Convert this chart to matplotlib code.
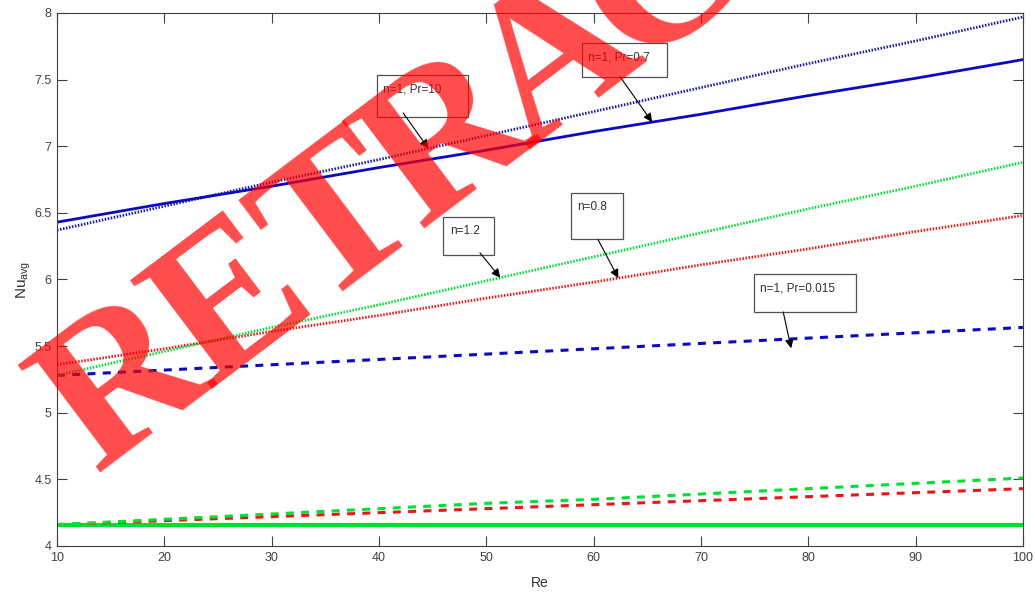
import matplotlib
matplotlib.use("Agg")
import matplotlib.pyplot as plt
from matplotlib.patches import Rectangle
import numpy as np

plt.rcParams['font.family'] = ['Liberation Sans', 'DejaVu Sans']
plt.rcParams['mathtext.fontset'] = 'custom'
plt.rcParams['mathtext.rm'] = 'Liberation Sans'

# Reynolds number and average Nusselt number curves
re = [10, 20, 30, 40, 50, 60, 70, 80, 90, 100]
nu_n1_pr07 = [6.43, 6.57, 6.70, 6.84, 6.97, 7.11, 7.24, 7.38, 7.51, 7.65]
nu_n1_pr10 = [6.37, 6.55, 6.73, 6.90, 7.08, 7.26, 7.44, 7.62, 7.79, 7.97]
nu_n12 = [5.28, 5.46, 5.64, 5.81, 5.99, 6.17, 6.35, 6.53, 6.70, 6.88]
nu_n08 = [5.36, 5.48, 5.61, 5.73, 5.86, 5.98, 6.11, 6.23, 6.36, 6.48]
nu_n1_pr0015 = [5.28, 5.32, 5.36, 5.40, 5.44, 5.48, 5.52, 5.56, 5.60, 5.64]
nu_n12_low = [4.16, 4.20, 4.24, 4.28, 4.32, 4.35, 4.39, 4.43, 4.47, 4.51]
nu_n08_low = [4.16, 4.19, 4.22, 4.25, 4.28, 4.31, 4.34, 4.37, 4.40, 4.43]
nu_flat = [4.16, 4.16, 4.16, 4.16, 4.16, 4.16, 4.16, 4.16, 4.16, 4.16]

x_ticks = [10, 20, 30, 40, 50, 60, 70, 80, 90, 100]
y_ticks = [4, 4.5, 5, 5.5, 6, 6.5, 7, 7.5, 8]
y_tick_labels = ['4', '4.5', '5', '5.5', '6', '6.5', '7', '7.5', '8']

BLUE = '#0a0ac0'
GREEN = '#00e030'
RED = '#e81818'
DOT = (0, (0.55, 0.55))
DASH = (0, (2.6, 2.4))

W, H = 1035, 595
fig = plt.figure(figsize=(W / 100, H / 100), dpi=100)
ax = fig.add_axes([0.0551, 0.0824, 0.9333, 0.8958])

ax.plot(re, nu_flat, color=GREEN, lw=3.0, solid_capstyle='butt')
ax.plot(re, nu_n08_low, color=RED, lw=2.2, linestyle=DASH)
ax.plot(re, nu_n12_low, color=GREEN, lw=2.2, linestyle=DASH)
ax.plot(re, nu_n1_pr0015, color=BLUE, lw=2.2, linestyle=DASH)
ax.plot(re, nu_n08, color=RED, lw=2.0, linestyle=DOT)
ax.plot(re, nu_n12, color=GREEN, lw=2.0, linestyle=DOT)
ax.plot(re, nu_n1_pr10, color='#1a1aa0', lw=2.0, linestyle=DOT)
ax.plot(re, nu_n1_pr07, color=BLUE, lw=2.0)

ax.set_xlim(10, 100)
ax.set_ylim(4, 8)
ax.set_xticks(x_ticks)
ax.set_yticks(y_ticks)
ax.set_yticklabels(y_tick_labels)
ax.tick_params(direction='in', top=True, right=True, length=7, width=0.8,
               colors='#404040', labelsize=9, pad=4)
for s in ax.spines.values():
    s.set_color('#404040')
    s.set_linewidth(0.8)

ax.set_xlabel('Re', fontsize=10, color='#303030', labelpad=9)
ax.set_ylabel(r'Nu$_{\mathrm{avg}}$', fontsize=11, color='#303030', labelpad=1)

# Text boxes with arrows pointing at the curves
px_x = 90.0 / 966.0   # data units per pixel along Re
px_y = 4.0 / 533.0    # data units per pixel along Nu

boxes = [
    # label, box (x0, x1, ytop, ybottom), arrow start, arrow tip Re, series, tip offset
    ('n=1, Pr=10', (39.8, 48.3, 7.535, 7.22), (42.25, 7.25), 44.6, nu_n1_pr10, 0.0),
    ('n=1, Pr=0.7', (58.9, 66.85, 7.775, 7.52), (62.47, 7.52), 65.45, nu_n1_pr07, 0.0),
    ('n=1.2', (46.0, 50.7, 6.47, 6.18), (49.4, 6.20), 51.3, nu_n12, 0.0),
    ('n=0.8', (57.9, 62.75, 6.65, 6.30), (60.4, 6.30), 62.3, nu_n08, 0.0),
    ('n=1, Pr=0.015', (74.9, 84.4, 6.04, 5.756), (77.66, 5.756), 78.4, nu_n1_pr0015, -0.07),
]
for label, (x0, x1, yt, yb), start, tip_re, series, off in boxes:
    ax.add_patch(Rectangle((x0, yb), x1 - x0, yt - yb, facecolor='white',
                           edgecolor='#505050', lw=0.9, zorder=5))
    ax.text(x0 + 6.5 * px_x, yt - 14.5 * px_y, label, fontsize=8.5,
            color='#303030', ha='left', va='center', zorder=6)
    tip = (tip_re, float(np.interp(tip_re, re, series)) + off)
    ax.annotate('', xy=tip, xytext=start,
                arrowprops=dict(arrowstyle='-|>', color='black', lw=0.8,
                                mutation_scale=13, shrinkA=0, shrinkB=0),
                zorder=7)

# Watermark: letters set one by one along a slanted baseline
word = 'RETRACTED'
angle = 37.0
pitch = 135.0
start_px = (126.0, 388.0)
ca, sa = np.cos(np.radians(angle)), np.sin(np.radians(angle))
for k, ch in enumerate(word):
    cx = start_px[0] + k * pitch * ca
    cy = start_px[1] - k * pitch * sa
    fig.text(cx / W, 1 - cy / H, ch, fontsize=150, fontweight='bold',
             family='Liberation Serif', color='red', alpha=0.7,
             rotation=angle, ha='center', va='center', rotation_mode='anchor',
             zorder=20)

fig.savefig('out.png', dpi=100)
